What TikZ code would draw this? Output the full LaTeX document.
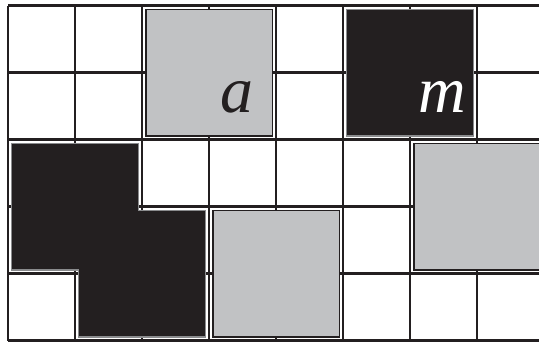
\documentclass[tikz,border=0pt]{standalone}
\usepackage{fontspec}
\setmainfont{Liberation Serif}
\usepackage{xcolor}
\definecolor{inkblack}{HTML}{231F20}
\definecolor{tilegrey}{HTML}{C1C2C4}
\definecolor{rimgrey}{HTML}{8A8B8D}
\usetikzlibrary{positioning}

\begin{document}
\begin{tikzpicture}[
  gridln/.style={draw=inkblack,line width=1.2pt},
  greytile/.style={draw=inkblack,fill=tilegrey,line width=0.7pt,
                   minimum size=18.9mm,inner sep=0pt,outer sep=0pt},
  blacktile/.style={draw=rimgrey,fill=inkblack,line width=0.5pt,
                    minimum size=18.9mm,inner sep=0pt,outer sep=0pt},
  lbl/.style={font=\fontsize{28}{28}\selectfont\itshape,inner sep=0pt,
              anchor=base east}]
\useasboundingbox (-0.12,-0.05) rectangle (7.925,5.085);
\clip (-0.12,-0.05) rectangle (7.925,5.085);
\draw[gridln] (0,0) grid (8,5);
% tiles
\node[greytile] (ta) at (3,4) {};
\node[blacktile] (tm) at (6,4) {};
\node[greytile] (tb) at (4,1) {};
\node[greytile] (tr) at (7,2) {};
\draw[draw=rimgrey,fill=inkblack,line width=0.5pt]
  (0.055,2.945) -- (1.945,2.945) -- (1.945,1.945) -- (2.945,1.945)
  -- (2.945,0.055) -- (1.055,0.055) -- (1.055,1.055) -- (0.055,1.055) -- cycle;
% letters
\node[lbl,text=inkblack] (a) at ([shift={(-0.27,0.345)}]ta.south east) {a};
\node[lbl,text=white] (m) at ([shift={(-0.1,0.345)}]tm.south east) {m};
\end{tikzpicture}
\end{document}
